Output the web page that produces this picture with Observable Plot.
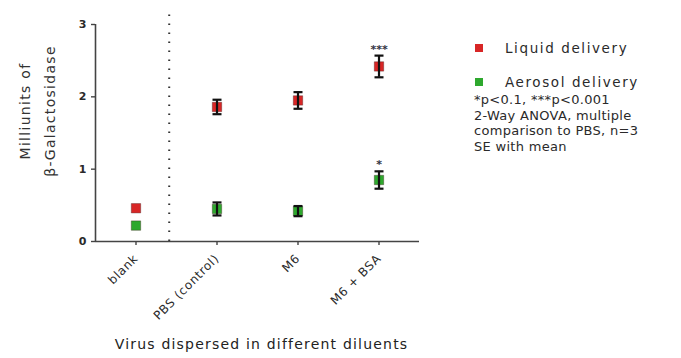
<!DOCTYPE html>
<html>
<head>
<meta charset="utf-8">
<script src="https://cdn.jsdelivr.net/npm/d3@7"></script>
<script src="https://cdn.jsdelivr.net/npm/@observablehq/plot@0.6"></script>
<style>
  html, body { margin: 0; padding: 0; background: #fff; }
  #wrap { position: relative; width: 681px; height: 358px; font-family: "DejaVu Sans", sans-serif; color: #2a2a2a; }
  .leg { position: absolute; line-height: 16px; white-space: nowrap; }
  .sw { position: absolute; width: 8px; height: 8px; }
</style>
</head>
<body>
<div id="wrap"></div>
<script>
const categories = ["blank", "PBS (control)", "M6", "M6 + BSA"];
const liquidMean = [0.46, 1.86, 1.95, 2.42];
const liquidSE   = [0.03, 0.10, 0.115, 0.15];
const aerosolMean = [0.22, 0.45, 0.42, 0.85];
const aerosolSE   = [0.04, 0.09, 0.07, 0.12];
const liquidSig  = ["", "", "", "***"];
const aerosolSig = ["", "", "", "*"];
const yTicks = [0, 1, 2, 3];
const seriesNames = ["Liquid delivery", "Aerosol delivery"];
const notes = ["*p<0.1, ***p<0.001", "2-Way ANOVA, multiple", "comparison to PBS, n=3", "SE with mean"];
const yTitle = "Milliunits of\nβ-Galactosidase";
const xTitle = "Virus dispersed in different diluents";
const dividerAt = 0.41;

const colors = {"Liquid delivery": "#d82626", "Aerosol delivery": "#2ea82e"};
const xDomain = [-0.5, 3.5];
const yDomain = [0, 3];

const rows = [];
categories.forEach((c, i) => {
  rows.push({i, series: seriesNames[0], mean: liquidMean[i], se: liquidSE[i], sig: liquidSig[i]});
  rows.push({i, series: seriesNames[1], mean: aerosolMean[i], se: aerosolSE[i], sig: aerosolSig[i]});
});
// as in the source software, error bars shorter than the symbol are hidden behind it
const barRows = rows.filter(d => d.se > 0.065);

const cap = { draw(ctx, size) { ctx.moveTo(-4.5, 0); ctx.lineTo(4.5, 0); } };

const chart = Plot.plot({
  width: 681, height: 358,
  marginLeft: 95, marginRight: 262, marginTop: 24, marginBottom: 117,
  style: {fontFamily: "'DejaVu Sans', sans-serif", color: "#2a2a2a", background: "#fff"},
  x: {domain: xDomain, axis: null},
  y: {domain: yDomain, axis: null},
  marks: [
    Plot.ruleX([dividerAt], {y1: yDomain[0], y2: 3.15, stroke: "#333", strokeWidth: 2, strokeDasharray: "1.5,7.5", clip: false}),
    Plot.ruleY([yDomain[0]], {stroke: "#444", strokeWidth: 1.6}),
    Plot.ruleX([xDomain[0]], {stroke: "#444", strokeWidth: 1.6}),
    Plot.axisY({ticks: yTicks, tickSize: 4, tickPadding: 5, tickFormat: d => String(d), fontSize: 11, fontWeight: "bold", label: null, stroke: "#444", strokeWidth: 1.4}),
    Plot.axisX({ticks: [0, 1, 2, 3], tickFormat: i => categories[i], tickRotate: -45, tickSize: 4, tickPadding: 11, fontSize: 12, label: null, stroke: "#444", strokeWidth: 1.4}),
    Plot.dot(rows, {x: "i", y: "mean", symbol: "square", r: 5.3, fill: d => colors[d.series], stroke: "#3a1a1a", strokeWidth: 0.6, strokeOpacity: 0.6}),
    Plot.ruleX(barRows, {x: "i", y1: d => d.mean - d.se, y2: d => d.mean + d.se, stroke: "#111", strokeWidth: 2.2}),
    Plot.dot(barRows, {x: "i", y: d => d.mean + d.se, symbol: cap, stroke: "#111", strokeWidth: 2.2, r: 3}),
    Plot.dot(barRows, {x: "i", y: d => d.mean - d.se, symbol: cap, stroke: "#111", strokeWidth: 2.2, r: 3}),
    Plot.text(rows.filter(d => d.sig), {x: "i", y: d => d.mean + d.se, text: "sig", dy: -3, lineAnchor: "bottom", fontSize: 11, fontWeight: "bold", fill: "#334"}),
    Plot.text([yTitle], {frameAnchor: "left", dx: -61, dy: -22, rotate: -90, textAnchor: "middle", lineAnchor: "middle", lineHeight: 1.75, fontSize: 14, fill: "#333"}),
    Plot.text([xTitle], {frameAnchor: "bottom", dx: 4, dy: 107, textAnchor: "middle", fontSize: 14, fill: "#222"})
  ]
});

const svg = d3.select(chart);
svg.selectAll("text").each(function() {
  const t = this.textContent;
  if (t === xTitle) this.setAttribute("letter-spacing", "1.2px");
  else if (t.startsWith("Milliunits")) this.setAttribute("letter-spacing", "1.3px");
  else if (categories.includes(t)) this.setAttribute("letter-spacing", "0.7px");
});

const wrap = document.getElementById("wrap");
wrap.appendChild(chart);

// legend
const legendTop = [48, 81.5];
seriesNames.forEach((name, k) => {
  const sw = document.createElement("div");
  sw.className = "sw";
  sw.style.left = "475px";
  sw.style.top = (legendTop[k] - 4) + "px";
  sw.style.background = colors[name];
  wrap.appendChild(sw);
  const t = document.createElement("div");
  t.className = "leg";
  t.style.left = "505px";
  t.style.top = (legendTop[k] - 8) + "px";
  t.style.fontSize = "13.5px";
  t.style.letterSpacing = "1.6px";
  t.textContent = name;
  wrap.appendChild(t);
});
const noteTop = [100, 115.5, 131, 146.5];
notes.forEach((n, k) => {
  const t = document.createElement("div");
  t.className = "leg";
  t.style.left = "474px";
  t.style.top = (noteTop[k] - 8) + "px";
  t.style.fontSize = "13px";
  t.style.letterSpacing = "0.3px";
  t.textContent = n;
  wrap.appendChild(t);
});
</script>
</body>
</html>
